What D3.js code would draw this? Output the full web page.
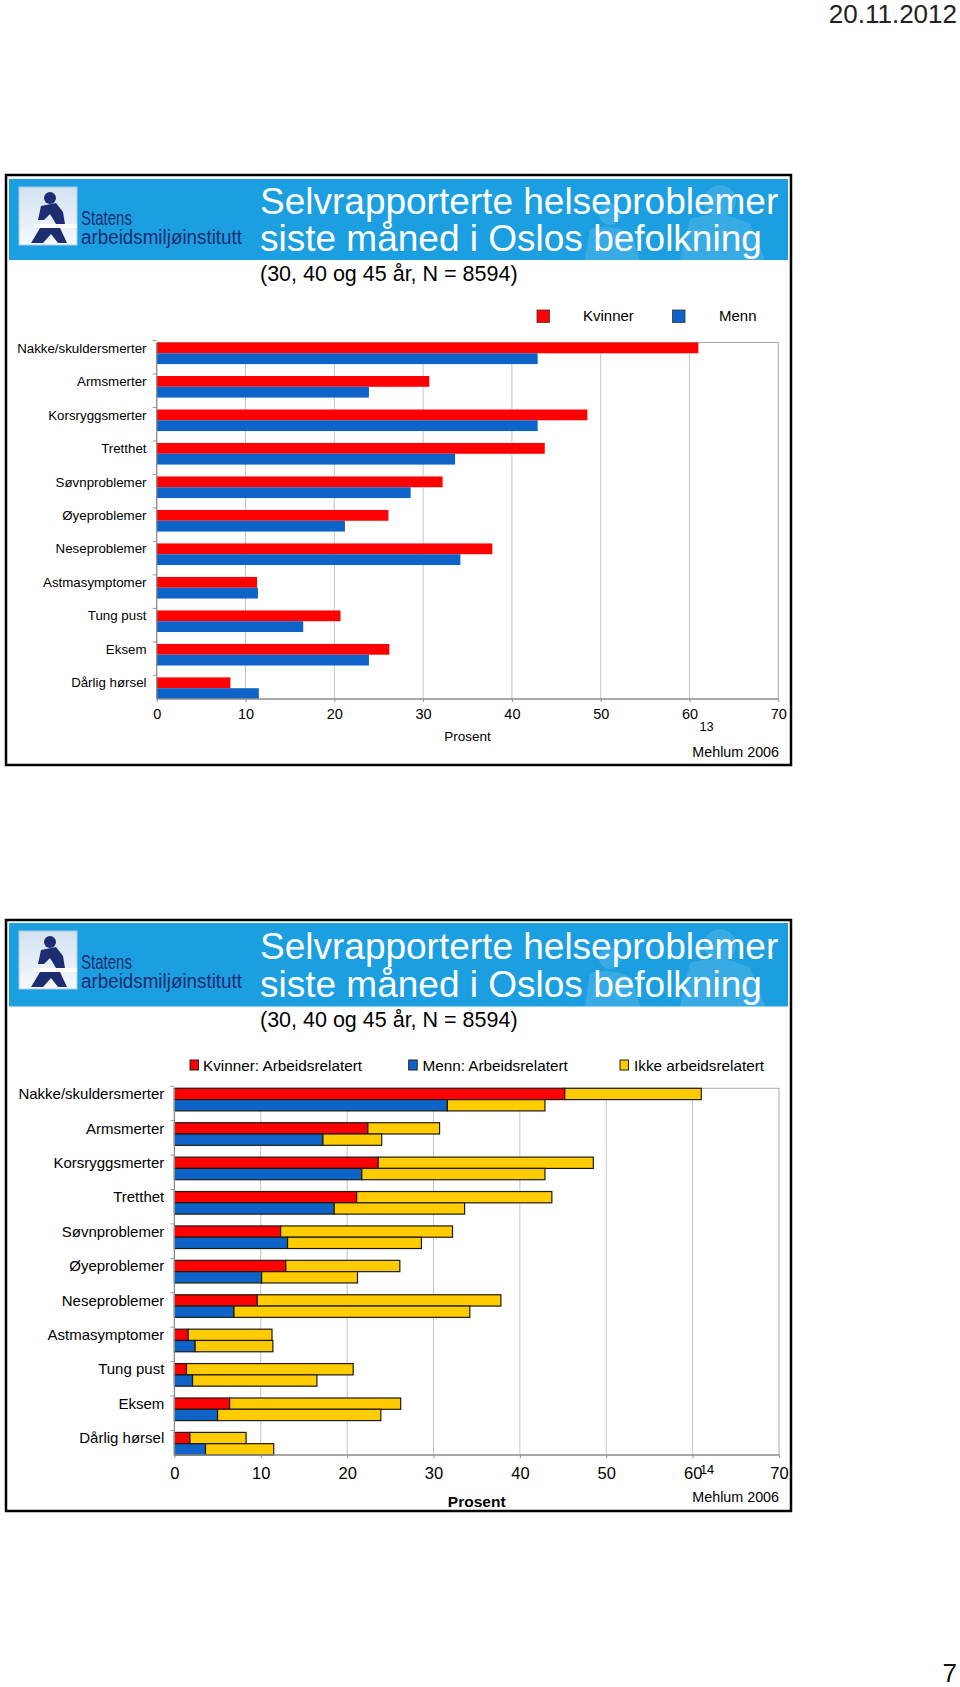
<!DOCTYPE html>
<html><head><meta charset="utf-8">
<script src="https://cdn.jsdelivr.net/npm/d3@7"></script>
<style>body{margin:0;background:#fff}svg{display:block;font-family:"Liberation Sans",Arial,sans-serif}</style>
</head><body>
<svg id="c" width="960" height="1687"></svg>
<script>
// ---------- DATA ----------
const categories = ["Nakke/skuldersmerter","Armsmerter","Korsryggsmerter","Tretthet","Søvnproblemer","Øyeproblemer","Neseproblemer","Astmasymptomer","Tung pust","Eksem","Dårlig hørsel"];
const kvinner = [61.0, 30.7, 48.5, 43.7, 32.2, 26.1, 37.8, 11.3, 20.7, 26.2, 8.3];
const menn    = [42.9, 23.9, 42.9, 33.6, 28.6, 21.2, 34.2, 11.4, 16.5, 23.9, 11.5];
const kvinnerArbeid = [45.2, 22.4, 23.6, 21.1, 12.3, 12.9, 9.6, 1.6, 1.4, 6.4, 1.8];
const kvinnerIkke   = [15.8, 8.3, 24.9, 22.6, 19.9, 13.2, 28.2, 9.7, 19.3, 19.8, 6.5];
const mennArbeid    = [31.6, 17.2, 21.7, 18.5, 13.1, 10.1, 6.9, 2.4, 2.1, 5.0, 3.6];
const mennIkke      = [11.3, 6.8, 21.2, 15.1, 15.5, 11.1, 27.3, 9.0, 14.4, 18.9, 7.9];
const xTicks = [0, 10, 20, 30, 40, 50, 60, 70];
const titleLines = ["Selvrapporterte helseproblemer", "siste måned i Oslos befolkning"];
const subtitle = "(30, 40 og 45 år, N = 8594)";
const logoLines = ["Statens", "arbeidsmiljøinstitutt"];
const legend1 = ["Kvinner", "Menn"];
const legend2 = ["Kvinner: Arbeidsrelatert", "Menn: Arbeidsrelatert", "Ikke arbeidsrelatert"];
const axisTitle = "Prosent";
const sourceText = "Mehlum 2006";
const slideNums = ["13", "14"];
const dateText = "20.11.2012";
const pageNo = "7";

// ---------- STYLE ----------
const RED = "#ff0000", BLUE = "#0e63c9", YELLOW = "#ffcc00", BAND = "#1b9fe0", NAVY = "#1c2d72";
const svg = d3.select("#c");

svg.append("text").attr("x", 957).attr("y", 23).attr("text-anchor", "end")
  .attr("font-size", 26).attr("fill", "#222").text(dateText);
svg.append("text").attr("x", 957).attr("y", 1682).attr("text-anchor", "end")
  .attr("font-size", 26).attr("fill", "#111").text(pageNo);

function header(o) {
  const g = svg.append("g");
  g.append("rect").attr("x", 6).attr("y", o.frameTop).attr("width", 785).attr("height", o.frameBottom - o.frameTop)
    .attr("fill", "#fff").attr("stroke", "#000").attr("stroke-width", 2.5);
  g.append("rect").attr("x", 9).attr("y", o.bandTop).attr("width", 779).attr("height", o.bandBottom - o.bandTop)
    .attr("fill", BAND);
  // faint watermark figures
  const wm = g.append("g").attr("fill", "#fff").attr("opacity", 0.13);
  wm.append("circle").attr("cx", 720).attr("cy", o.bandTop + 22).attr("r", 16);
  wm.append("path").attr("d", `M690,${o.bandTop+40} Q720,${o.bandTop+30} 750,${o.bandTop+45} L765,${o.bandBottom} L680,${o.bandBottom} Z`);
  wm.append("circle").attr("cx", 610).attr("cy", o.bandTop + 35).attr("r", 11);
  wm.append("path").attr("d", `M590,${o.bandTop+50} Q612,${o.bandTop+44} 632,${o.bandTop+55} L640,${o.bandBottom} L585,${o.bandBottom} Z`);
  // logo
  const bx = 19, by = o.bandTop + 8;
  const grad = "lg" + o.bandTop;
  const defs = g.append("defs").append("linearGradient").attr("id", grad).attr("x1", 0).attr("y1", 0).attr("x2", 0).attr("y2", 1);
  defs.append("stop").attr("offset", 0).attr("stop-color", "#d4e3f0");
  defs.append("stop").attr("offset", 1).attr("stop-color", "#f4f8fb");
  g.append("rect").attr("x", bx).attr("y", by).attr("width", 58).attr("height", 58)
    .attr("fill", `url(#${grad})`).attr("stroke", "#a9cce8").attr("stroke-width", 1);
  const f = g.append("g").attr("fill", NAVY);
  f.append("circle").attr("cx", bx + 31).attr("cy", by + 11).attr("r", 6);
  f.append("path").attr("d", `M${bx+22},${by+19} L${bx+37},${by+16} L${bx+44},${by+25} L${bx+46},${by+37} L${bx+37},${by+37} L${bx+31},${by+27} L${bx+25},${by+33} L${bx+19},${by+33} Z`);
  f.append("path").attr("d", `M${bx+12},${by+56} L${bx+21},${by+41} L${bx+41},${by+41} L${bx+48},${by+56} L${bx+39},${by+56} L${bx+32},${by+47} L${bx+24},${by+56} Z`);
  g.append("rect").attr("x", bx + 15).attr("y", by + 37).attr("width", 43).attr("height", 4).attr("fill", "#fff");
  g.append("text").attr("x", 81).attr("y", o.bandTop + 46).attr("font-size", 19.5).attr("fill", NAVY)
    .attr("textLength", 51).attr("lengthAdjust", "spacingAndGlyphs").text(logoLines[0]);
  g.append("text").attr("x", 81).attr("y", o.bandTop + 65).attr("font-size", 19.5).attr("fill", NAVY)
    .attr("textLength", 161).attr("lengthAdjust", "spacingAndGlyphs").text(logoLines[1]);
  // titles
  titleLines.forEach((t, i) => g.append("text").attr("x", 260).attr("y", o.titleY[i])
    .attr("font-size", 37).attr("fill", "#fff").text(t));
  g.append("text").attr("x", 260).attr("y", o.subY).attr("font-size", 21.5).attr("fill", "#000").text(subtitle);
}

function plotFrame(o, x, y) {
  const g = svg.append("g");
  xTicks.forEach(t => {
    if (t > 0) g.append("line").attr("x1", x(t)).attr("x2", x(t)).attr("y1", o.top).attr("y2", o.bottom)
      .attr("stroke", t === 70 ? "#a8a8a8" : "#c4c4c4").attr("stroke-width", 1);
  });
  g.append("line").attr("x1", o.left).attr("x2", o.right).attr("y1", o.top).attr("y2", o.top).attr("stroke", "#a8a8a8");
  // category tick marks
  categories.forEach(c => g.append("line").attr("x1", o.left - 4).attr("x2", o.left).attr("y1", y(c) - 2).attr("y2", y(c) - 2).attr("stroke", "#999"));
  return g;
}

function axes(o, x, y) {
  const g = svg.append("g");
  g.append("line").attr("x1", o.left).attr("x2", o.left).attr("y1", o.top).attr("y2", o.bottom).attr("stroke", "#8c8c8c").attr("stroke-width", 1.3);
  g.append("line").attr("x1", o.left).attr("x2", o.right).attr("y1", o.bottom).attr("y2", o.bottom).attr("stroke", "#8c8c8c").attr("stroke-width", 1.3);
  const ax = g.append("g").attr("transform", `translate(0,${o.bottom})`)
    .call(d3.axisBottom(x).tickValues(xTicks).tickSize(3).tickPadding(o.tickPad));
  ax.attr("font-family", null).attr("font-size", null);
  ax.select(".domain").remove();
  ax.selectAll(".tick line").attr("stroke", "#8c8c8c");
  ax.selectAll(".tick text").attr("font-size", o.tickFont).attr("fill", "#000");
  g.selectAll("text.cat").data(categories).join("text").attr("class", "cat")
    .attr("x", o.labelX).attr("y", c => y(c) + o.barH / 2).attr("dy", "0.35em")
    .attr("text-anchor", "end").attr("font-size", o.labelFont).attr("fill", "#000").text(c => c);
}

// ---------- CHART 1 ----------
header({ frameTop: 175, frameBottom: 765, bandTop: 179, bandBottom: 260, titleY: [214, 251], subY: 281 });
const o1 = { left: 156.7, right: 778.3, top: 342.5, bottom: 699, barH: 10.8, tickPad: 7, tickFont: 14.5, labelX: 146.5, labelFont: 13.3 };
const x1 = d3.scaleLinear().domain([0, 70]).range([o1.left, o1.right]);
const y1 = d3.scalePoint().domain(categories).range([o1.top, o1.bottom - 2 * o1.barH]);
plotFrame(o1, x1, y1);
const g1 = svg.append("g");
g1.selectAll("rect.k").data(categories).join("rect").attr("class", "k")
  .attr("x", x1(0)).attr("y", c => y1(c)).attr("height", o1.barH)
  .attr("width", (c, i) => x1(kvinner[i]) - x1(0)).attr("fill", RED);
g1.selectAll("rect.m").data(categories).join("rect").attr("class", "m")
  .attr("x", x1(0)).attr("y", c => y1(c) + o1.barH).attr("height", o1.barH)
  .attr("width", (c, i) => x1(menn[i]) - x1(0)).attr("fill", BLUE);
axes(o1, x1, y1);
// legend 1
const lg1 = svg.append("g");
[[537, RED, 583], [672.5, BLUE, 719]].forEach((d, i) => {
  lg1.append("rect").attr("x", d[0]).attr("y", 310).attr("width", 12.5).attr("height", 12.5)
    .attr("fill", d[1]).attr("stroke", "#333").attr("stroke-width", 0.8);
  lg1.append("text").attr("x", d[2]).attr("y", 321).attr("font-size", 15).attr("fill", "#000").text(legend1[i]);
});
svg.append("text").attr("x", (o1.left + o1.right) / 2).attr("y", 741).attr("text-anchor", "middle")
  .attr("font-size", 13.5).text(axisTitle);
svg.append("text").attr("x", 706.6).attr("y", 731).attr("text-anchor", "middle").attr("font-size", 12.8).text(slideNums[0]);
svg.append("text").attr("x", 779).attr("y", 757).attr("text-anchor", "end").attr("font-size", 14.3).text(sourceText);

// ---------- CHART 2 ----------
header({ frameTop: 920, frameBottom: 1511, bandTop: 923, bandBottom: 1006.5, titleY: [959, 997], subY: 1027 });
const o2 = { left: 174.4, right: 779, top: 1088.3, bottom: 1455, barH: 11.3, tickPad: 9, tickFont: 16.5, labelX: 164.3, labelFont: 15 };
const x2 = d3.scaleLinear().domain([0, 70]).range([o2.left, o2.right]);
const y2 = d3.scalePoint().domain(categories).range([o2.top, o2.bottom - 2 * o2.barH]);
plotFrame(o2, x2, y2);
const rowsK = categories.map((c, i) => ({ cat: c, arbeid: kvinnerArbeid[i], ikke: kvinnerIkke[i] }));
const rowsM = categories.map((c, i) => ({ cat: c, arbeid: mennArbeid[i], ikke: mennIkke[i] }));
const stack = d3.stack().keys(["arbeid", "ikke"]);
const g2 = svg.append("g").attr("stroke", "#1e1a10").attr("stroke-width", 1.2);
[[stack(rowsK), [RED, YELLOW], 0], [stack(rowsM), [BLUE, YELLOW], 1]].forEach(([series, cols, off]) => {
  series.forEach((s, si) => {
    g2.selectAll(null).data(s).join("rect")
      .attr("x", d => x2(d[0])).attr("width", d => x2(d[1]) - x2(d[0]))
      .attr("y", d => y2(d.data.cat) + off * o2.barH).attr("height", o2.barH)
      .attr("fill", cols[si]);
  });
});
axes(o2, x2, y2);
const lg2 = svg.append("g");
[[190, RED, 203], [408.7, BLUE, 422.4], [620, YELLOW, 634]].forEach((d, i) => {
  lg2.append("rect").attr("x", d[0]).attr("y", 1060).attr("width", 8.5).attr("height", 10)
    .attr("fill", d[1]).attr("stroke", "#222").attr("stroke-width", 1);
  lg2.append("text").attr("x", d[2]).attr("y", 1070.5).attr("font-size", 15.3).attr("fill", "#000").text(legend2[i]);
});
svg.append("text").attr("x", (o2.left + o2.right) / 2).attr("y", 1507).attr("text-anchor", "middle")
  .attr("font-size", 15.5).attr("font-weight", "bold").text(axisTitle);
svg.append("text").attr("x", 707).attr("y", 1474).attr("text-anchor", "middle").attr("font-size", 12.8).text(slideNums[1]);
svg.append("text").attr("x", 779).attr("y", 1502).attr("text-anchor", "end").attr("font-size", 14.3).text(sourceText);
</script>
</body></html>
